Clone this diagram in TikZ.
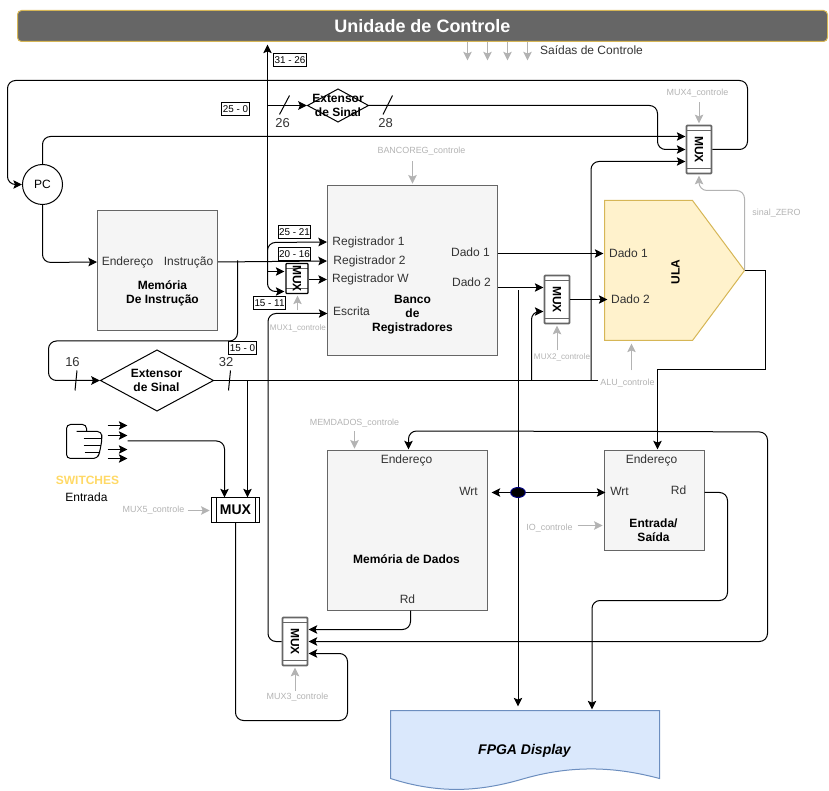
\documentclass[tikz,border=0pt]{standalone}
\usepackage{graphicx}
\usepackage{fontspec}
\setmainfont{Liberation Sans}
\usetikzlibrary{arrows.meta,shapes.geometric}
\definecolor{barra}{HTML}{666666}
\definecolor{ouro}{HTML}{D6B656}
\definecolor{bloco}{HTML}{F5F5F5}
\definecolor{sinal}{HTML}{B3B3B3}
\definecolor{textoum}{HTML}{333333}
\definecolor{ulafundo}{HTML}{FFF2CC}
\definecolor{docfundo}{HTML}{DAE8FC}
\definecolor{docborda}{HTML}{6C8EBF}
\definecolor{chave}{HTML}{FFD966}
\tikzset{
  txt/.style={inner sep=0pt,text=textoum,font=\fontsize{9}{10.5}\selectfont,align=center},
  txtb/.style={inner sep=0pt,text=black,font=\fontsize{9}{10.5}\selectfont\bfseries,align=center},
  ctrltxt/.style={inner sep=0pt,text=sinal,font=\fontsize{6.7}{8}\selectfont},
  ctrlmenor/.style={ctrltxt,font=\fontsize{6.1}{8}\selectfont},
  bits/.style={inner sep=0pt,text=textoum,font=\fontsize{9.75}{11}\selectfont},
  faixa/.style={draw=black,line width=0.75pt,fill=white,inner xsep=0.8pt,inner ysep=0pt,minimum height=9.75pt,text=black,font=\fontsize{7.4}{8}\selectfont},
  caixa/.style={draw=barra,fill=bloco,line width=0.75pt,inner sep=0pt},
  losango/.style={draw=black,fill=white,diamond,inner sep=0pt,line width=0.75pt},
  muxv/.style={draw=barra,line width=1.3pt,fill=white,inner sep=0pt,rounded corners=0.6pt,
    minimum width=18.75pt,minimum height=36pt,text=black,font=\fontsize{9}{10}\selectfont\bfseries,
    path picture={
      \draw[barra,line width=0.75pt] ([yshift=-3.4pt]path picture bounding box.north west) -- ([yshift=-3.4pt]path picture bounding box.north east);
      \draw[barra,line width=0.75pt] ([yshift=3.4pt]path picture bounding box.south west) -- ([yshift=3.4pt]path picture bounding box.south east);
    }},
  wire/.style={draw=black,line width=0.75pt,rounded corners=6pt},
  seta/.style={-{Stealth[length=6.5pt,width=6.4pt,inset=1.3pt]}},
  ctrl/.style={draw=sinal,line width=0.75pt,rounded corners=6pt,shorten >=1pt,-{Stealth[length=6.5pt,width=6.4pt,inset=1.3pt]}},
}
\begin{document}
\begin{tikzpicture}[x=0.75pt,y=-0.75pt]
  \useasboundingbox (-0.5,-0.5) rectangle (828.5,790.5);

  % Unidade de controle
  \node[draw=ouro,fill=barra,line width=0.75pt,rounded corners=3pt,minimum width=607.5pt,minimum height=23.25pt,
    inner sep=0pt,text=white,font=\fontsize{13.5}{15}\selectfont\bfseries] (controle) at (422,25.5) {Unidade de Controle};
  \foreach \px in {467,487,507,527} {
    \coordinate (saida\px) at (\px,60);
    \draw[ctrl,shorten >=0pt] (saida\px |- controle.south) -- (saida\px);
  }
  \node[txt] (saidas) at (591,49.5) {Saídas de Controle};

  % Define the nodes
  \node[draw=black,fill=white,circle,minimum size=30pt,inner sep=0pt,line width=0.75pt,font=\fontsize{9}{10}\selectfont] (pc) at (42,184) {PC};
  \node[caixa,minimum width=90pt,minimum height=90pt] (memoria) at (157,270) {};
  \node[caixa,minimum width=127.5pt,minimum height=127.5pt] (banco) at (412,270) {};
  \node[caixa,minimum width=120pt,minimum height=120pt] (dados) at (407,530) {};
  \node[caixa,minimum width=75pt,minimum height=75pt] (entrada) at (654,500) {};

  % Memoria de instrucao
  \node[txt] (endI) at (127,261.5) {Endereço};
  \node[txt] (saiI) at (188,261.5) {Instrução};
  \node[txtb] (memI) at (162,292.5) {Memória\\De Instrução};

  % Banco
  \node[txt] (regUm) at (368,241.5) {Registrador 1};
  \node[txt] (regDois) at (369,260.5) {Registrador 2};
  \node[txt] (regW) at (370,279) {Registrador W};
  \node[txt] (escrita) at (351,310.5) {Escrita};
  \node[txtb] (bancoT) at (412,314.5) {Banco\\de\\Registradores};
  \node[txt] (dadoUm) at (470,251.5) {Dado 1};
  \node[txt] (dadoDois) at (471,281.5) {Dado 2};

  % ULA
  \draw[draw=ouro,fill=ulafundo,line width=0.75pt] (604,200) -- (692,200) -- (744,270) -- (692,340) -- (604,340) -- cycle;
  \coordinate (ulaS) at (744,270);
  \node[txt] (ulaUm) at (628,252.5) {Dado 1};
  \node[txt] (ulaDois) at (630,298.5) {Dado 2};
  \node[txtb,rotate=90] (ula) at (675,271.5) {ULA};

  % Dados e entrada
  \node[txt] (endD) at (406,459.5) {Endereço};
  \node[txt] (wrtD) at (468,490.5) {Wrt};
  \node[txtb] (memD) at (406,558.5) {Memória de Dados};
  \node[txt] (rdD) at (407,598.5) {Rd};
  \node[txt] (endE) at (651,459.5) {Endereço};
  \node[txt] (wrtE) at (619,490.5) {Wrt};
  \node[txt] (rdE) at (678,489.5) {Rd};
  \node[txtb] (entT) at (653,530) {Entrada/\\Saída};

  % Extensores
  \node[losango,minimum width=46pt,minimum height=25pt] (extA) at (337.5,105) {};
  \node[txtb] (extAt) at (337.5,105) {Extensor\\de Sinal};
  \node[losango,minimum width=85pt,minimum height=46pt] (extB) at (156.5,380) {};
  \node[txtb] (extBt) at (156,380) {Extensor\\de Sinal};

  % Mux
  \node[muxv,draw=black,line width=1pt,minimum width=16.5pt,minimum height=22.5pt] (muxA) at (296.5,278) {\rotatebox{-90}{MUX}};
  \node[muxv] (muxB) at (556.5,299) {\rotatebox{-90}{MUX}};
  \node[muxv] (muxC) at (294.5,641) {\rotatebox{-90}{MUX}};
  \node[muxv] (muxD) at (698.5,149) {\rotatebox{-90}{MUX}};
  \node[draw=black,fill=white,line width=0.75pt,inner sep=0pt,minimum width=36pt,minimum height=18.75pt,
    font=\fontsize{10.5}{12}\selectfont\bfseries] (muxE) at (235,509.5) {MUX};
  \draw[line width=0.75pt] (216,497) -- (216,522);
  \draw[line width=0.75pt] (254.5,497) -- (254.5,522);

  % Entradas dos mux
  \coordinate (muxAa) at (284,271);
  \coordinate (muxAb) at (284,291);
  \coordinate (muxBa) at (543,287);
  \coordinate (muxBb) at (543,311);
  \coordinate (muxCa) at (308,629);
  \coordinate (muxCb) at (308,641);
  \coordinate (muxCc) at (308,653);
  \coordinate (muxDa) at (685,136);
  \coordinate (muxDb) at (685,149);
  \coordinate (muxDc) at (685,161);
  \coordinate (muxEa) at (224,497);
  \coordinate (muxEb) at (247,497);

  % Connect the nodes
  \draw[wire,seta] (muxD.east) -- (747,149) -- (747,80) -- (7,80) -- (7,184) -- (pc.west);
  \draw[wire,seta] (pc.north) -- (42,136) -- (muxDa);
  \draw[wire,seta] (pc.south) -- (42,262) -- (memoria.west |- endI);

  % Barramento da instrucao
  \coordinate (busI) at (267,261);
  \coordinate (opcode) at (267,44);
  \coordinate (busL) at (237,260);
  \coordinate (busE) at (267,105);
  \coordinate (busM) at (267,271);
  \draw[wire,seta] (memoria.east |- saiI) -- (banco.west |- regDois);
  \draw[wire,seta] (busI) -- (opcode);
  \draw[wire,seta] (busI) -- (267,242) -- (banco.west |- regUm);
  \draw[wire,seta] (busI) -- (267,291) -- (muxAb);
  \draw[wire,seta] (busM) -- (muxAa);
  \draw[wire,seta] (muxA.east |- regW) -- (banco.west |- regW);
  \draw[wire,seta] (busE) -- (extA.west);
  \draw[wire,seta] (extA.east) -- (657,105) -- (657,149) -- (muxDb);
  \draw[wire,seta] (busL) -- (237,340.5) -- (48,340.5) -- (48,380) -- (extB.west);

  % Extensor de baixo
  \coordinate (fimB) at (597,380);
  \coordinate (desceB) at (247,380);
  \coordinate (sobeB) at (531,380);
  \coordinate (sobeD) at (590.5,380);
  \draw[wire] (extB.east) -- (fimB);
  \draw[wire,seta] (desceB) -- (muxEb);
  \draw[wire,seta] (sobeB) -- (531,311) -- (muxBb);
  \draw[wire,seta] (sobeD) -- (590.5,161) -- (muxDc);

  % Saidas do banco e ULA
  \coordinate (dadoUmS) at (497,253);
  \coordinate (dadoUmE) at (603,253);
  \coordinate (muxBs) at (607,299);
  \draw[wire,seta] (dadoUmS) -- (dadoUmE);
  \draw[wire,seta] (banco.east |- muxBa) -- (muxBa);
  \draw[wire,seta] (muxB.east) -- (muxBs);

  % Ponto de escrita
  \node[draw=blue!50!black,fill=black,ellipse,minimum width=11pt,minimum height=7.5pt,inner sep=0pt,line width=0.75pt] (ponto) at (517.5,492) {};
  \coordinate (doisB) at (517.5,290);
  \coordinate (fpgaA) at (517.5,706);
  \coordinate (wrtDs) at (491,492);
  \coordinate (wrtEs) at (605,492);
  \draw[wire] (doisB) -- (ponto);
  \draw[wire,seta] (ponto) -- (fpgaA);
  \draw[wire,seta] (ponto) -- (wrtDs);
  \draw[wire,seta] (ponto) -- (wrtEs);

  % Saida da ULA
  \coordinate (nosE) at (657,431);
  \coordinate (endEs) at (657,449);
  \coordinate (endDs) at (408,449);
  \draw[wire,rounded corners=0pt,seta] (ulaS) -- (765,270) -- (765,369) -- (657,369) -- (endEs);
  \draw[wire,seta] (nosE) -- (408,430.5) -- (endDs);
  \draw[wire,seta] (nosE) -- (767,431.5) -- (767,641) -- (muxCb);

  % Leitura
  \coordinate (rdDs) at (410,610);
  \coordinate (rdEs) at (704,492);
  \coordinate (escritaS) at (327,313);
  \coordinate (fpgaB) at (591.5,709);
  \draw[wire,seta] (rdDs) -- (410,629) -- (muxCa);
  \draw[wire,seta] (rdEs) -- (727,492) -- (727,600) -- (591.5,600) -- (fpgaB);
  \draw[wire,seta] (muxE.south) -- (235,720) -- (347,720) -- (347,653) -- (muxCc);
  \draw[wire,seta] (muxC.west) -- (267.5,641) -- (267.5,313) -- (escritaS);

  % Cortes e bits
  \draw[line width=0.75pt] (279,114) -- (289,95);
  \draw[line width=0.75pt] (382.5,114) -- (392,95);
  \draw[line width=0.75pt] (74.5,390) -- (76.5,370);
  \draw[line width=0.75pt] (228,390) -- (230,370);
  \node[bits] (bitsA) at (282,123) {26};
  \node[bits] (bitsB) at (385,123) {28};
  \node[bits] (bitsC) at (72,361.5) {16};
  \node[bits] (bitsD) at (225.5,361.5) {32};

  % Faixas
  \node[faixa] (faixaA) at (289.5,59.5) {31 - 26};
  \node[faixa] (faixaB) at (235,108.5) {25 - 0};
  \node[faixa] (faixaC) at (294,231.5) {25 - 21};
  \node[faixa] (faixaD) at (294,253.5) {20 - 16};
  \node[faixa] (faixaE) at (269,303) {15 - 11};
  \node[faixa] (faixaF) at (242,347.5) {15 - 0};

  % Sinais de controle
  \node[ctrlmenor] (ctrlA) at (297.5,328) {MUX1\_controle};
  \node[ctrlmenor] (ctrlB) at (561.5,357) {MUX2\_controle};
  \node[ctrltxt] (ctrlC) at (297,697) {MUX3\_controle};
  \node[ctrltxt] (ctrlD) at (697,93) {MUX4\_controle};
  \node[ctrltxt] (ctrlE) at (153,510) {MUX5\_controle};
  \node[ctrltxt] (ctrlF) at (421,151) {BANCOREG\_controle};
  \node[ctrltxt] (ctrlG) at (354,423) {MEMDADOS\_controle};
  \node[ctrltxt] (ctrlH) at (549,528) {IO\_controle};
  \node[ctrltxt] (ctrlI) at (627,383) {ALU\_controle};
  \node[ctrltxt] (ctrlJ) at (776,213) {sinal\_ZERO};

  \coordinate (ctrlAs) at (297,310);
  \coordinate (ctrlBs) at (556.5,350);
  \coordinate (ctrlCs) at (294.5,690);
  \coordinate (ctrlDs) at (698.5,102);
  \coordinate (ctrlEs) at (187,510);
  \coordinate (ctrlFs) at (412,161);
  \coordinate (ctrlGs) at (354,431);
  \coordinate (ctrlHs) at (577,525);
  \coordinate (ctrlIs) at (631,370);
  \coordinate (ctrlIe) at (631,343);
  \draw[ctrl] (ctrlAs) -- (ctrlAs |- muxA.south);
  \draw[ctrl] (ctrlBs) -- (ctrlBs |- muxB.south);
  \draw[ctrl] (ctrlCs) -- (ctrlCs |- muxC.south);
  \draw[ctrl] (ctrlDs) -- (ctrlDs |- muxD.north);
  \draw[ctrl] (ctrlEs) -- (ctrlEs -| muxE.west);
  \draw[ctrl] (ctrlFs) -- (ctrlFs |- banco.north);
  \draw[ctrl] (ctrlGs) -- (ctrlGs |- dados.north);
  \draw[ctrl] (ctrlHs) -- (ctrlHs -| entrada.west);
  \draw[ctrl,shorten >=0pt] (ctrlIs) -- (ctrlIe);
  \draw[ctrl] (ulaS) -- (744,190) -- (698.5,190) -- (muxD.south);

  % Switches
  \draw[line width=0.75pt,rounded corners=3pt] (86,431) -- (86,424) -- (66,424) -- (66,458) -- (97,458) -- (99,452) -- (100.5,445) -- (101.5,438) -- (101,431) -- (76,431);
  \draw[line width=0.75pt] (83,438) -- (101,438);
  \draw[line width=0.75pt] (83,445) -- (100,445);
  \draw[line width=0.75pt] (84,452) -- (99,452);
  \foreach \py in {425,435,449,458} {
    \coordinate (chaveA\py) at (107,\py);
    \coordinate (chaveB\py) at (127,\py);
    \draw[wire,seta] (chaveA\py) -- (chaveB\py);
  }
  \coordinate (chaveS) at (127,440.5);
  \draw[wire,seta] (chaveS) -- (224,440.5) -- (muxEa);
  \node[txtb,text=chave] (switches) at (87,479.5) {SWITCHES};
  \node[txt,text=black] (entradaT) at (86,496.5) {Entrada};

  % FPGA
  \draw[draw=docborda,fill=docfundo,line width=0.75pt] (390,710) -- (659,710) -- (659,778) .. controls (625,769) and (580,762) .. (524,778) .. controls (480,791) and (440,794) .. (390,778) -- cycle;
  \node[txtb,font=\fontsize{10.5}{12}\selectfont\bfseries\itshape] (fpga) at (524,750) {FPGA Display};
\end{tikzpicture}
\end{document}
